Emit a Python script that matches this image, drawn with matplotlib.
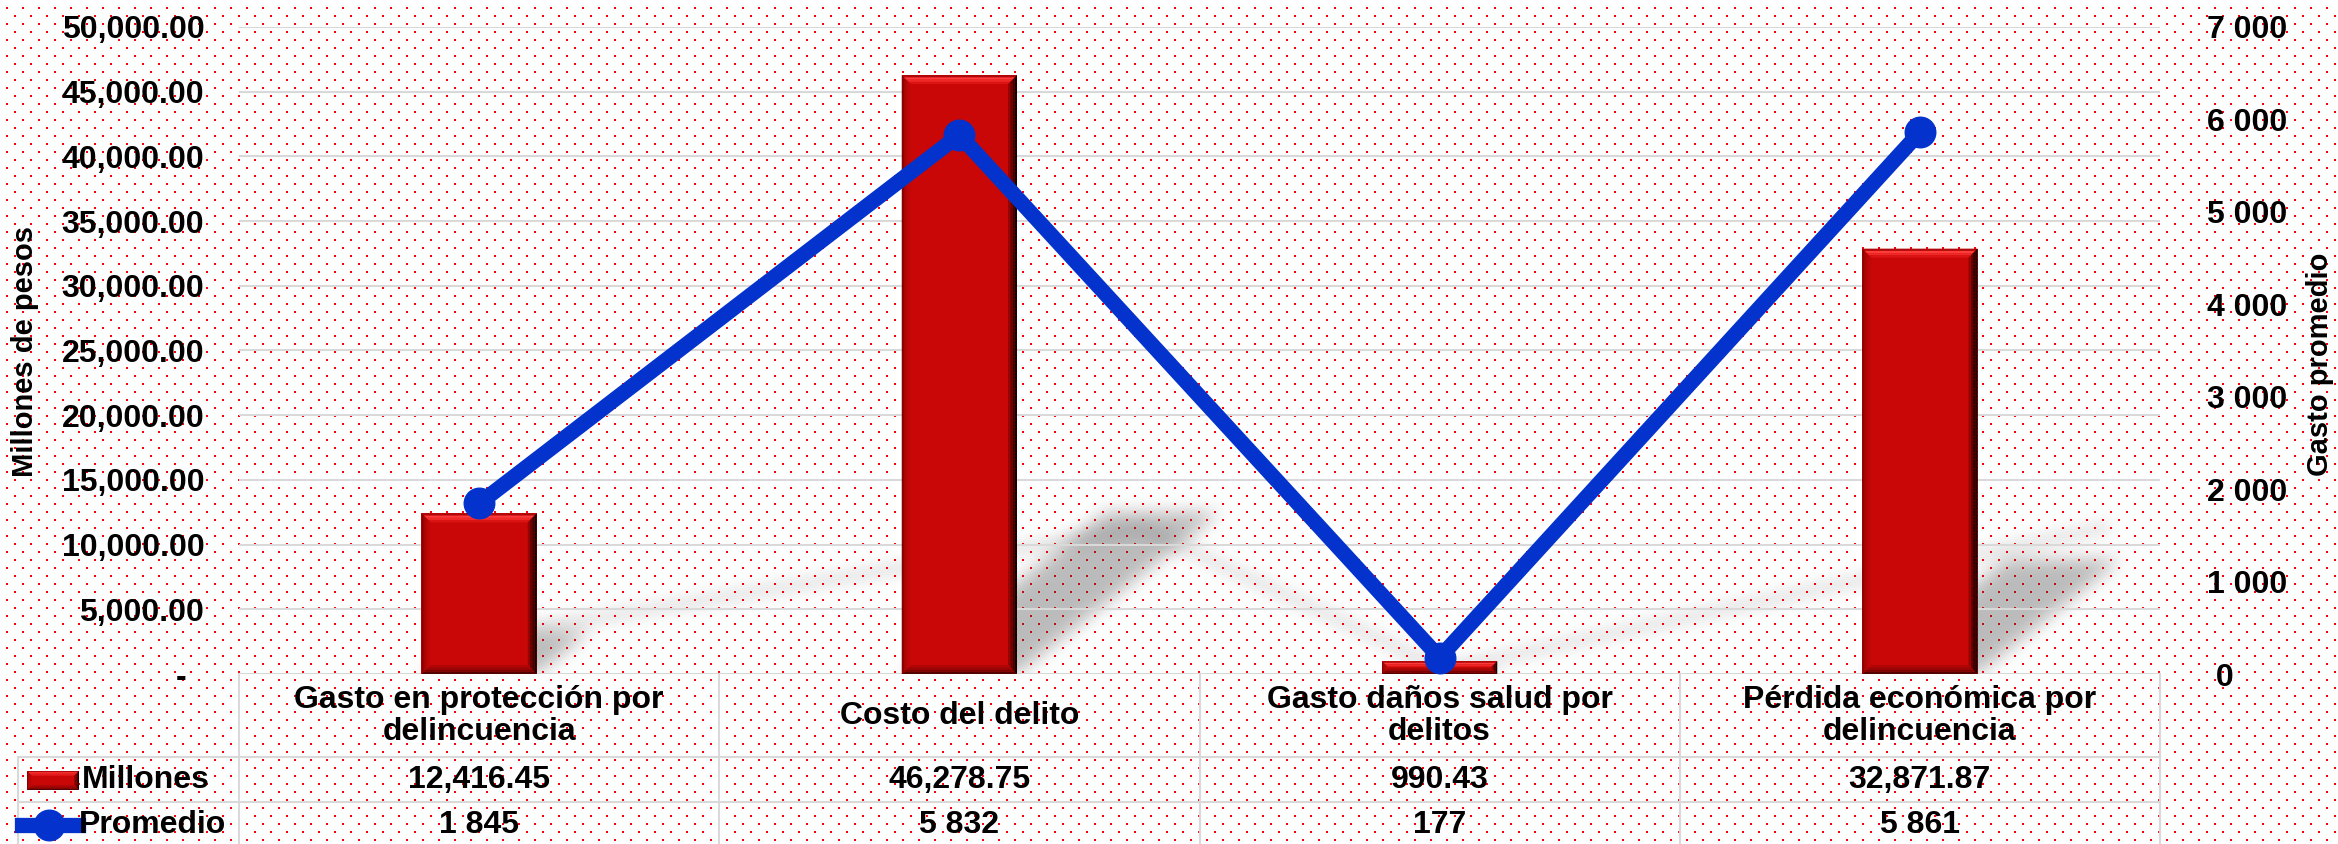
import numpy as np
import matplotlib

matplotlib.use("Agg")
import matplotlib.pyplot as plt
from matplotlib.path import Path
from matplotlib.patches import Polygon
from matplotlib.lines import Line2D
from matplotlib.transforms import IdentityTransform

# data
categories = [
    "Gasto en protección por\ndelincuencia",
    "Costo del delito",
    "Gasto daños salud por\ndelitos",
    "Pérdida económica por\ndelincuencia",
]
millones = [12416.45, 46278.75, 990.43, 32871.87]
promedio = [1845, 5832, 177, 5861]
left_ticks = [0, 5000, 10000, 15000, 20000, 25000, 30000, 35000, 40000, 45000, 50000]
right_ticks = [0, 1000, 2000, 3000, 4000, 5000, 6000, 7000]

W, H, DPI = 2338, 844, 100
PL, PR, PT, PB = 239, 2160, 27, 674  # plot box in px (from top)
RED = "#C90707"
BLUE = "#0333CC"
GRID = "#D9D9D9"

plt.rcParams["font.family"] = ["Liberation Sans", "DejaVu Sans"]
plt.rcParams["font.weight"] = "bold"

fig = plt.figure(figsize=(W / DPI, H / DPI), dpi=DPI)
fig.patch.set_facecolor("white")
ax = fig.add_axes([PL / W, (H - PB) / H, (PR - PL) / W, (PB - PT) / H])
ax.set_facecolor("none")
ax.set_xlim(-0.5, 3.5)
ax.set_ylim(0, 50000)
ax2 = ax.twinx()
ax2.set_ylim(0, 7000)

x = np.arange(len(categories))
bars = ax.bar(x, millones, width=0.24, color=RED, linewidth=0, zorder=2)
ax2.plot(x, promedio, color=BLUE, lw=11, marker="o", ms=22, zorder=4, solid_joinstyle="round")

# axes cosmetics
ax.set_yticks(left_ticks)
ax.set_yticklabels(["-  " if v == 0 else f"{v:,.2f}" for v in left_ticks])
ax2.set_yticks(right_ticks)
ax2.set_yticklabels([" 0" if v == 0 else f"{v:,}".replace(",", " ") for v in right_ticks])
ax.set_xticks([])
for a in (ax, ax2):
    for s in a.spines.values():
        s.set_visible(False)
ax.tick_params(axis="y", length=0, pad=25, labelsize=23)
ax2.tick_params(axis="y", length=0, pad=34, labelsize=23)
for lab in ax2.get_yticklabels():
    lab.set_horizontalalignment("left")
ax.yaxis.grid(True, color=GRID, lw=1.5)
ax.set_axisbelow(True)

fig.text(25 / W, 1 - 351 / H, "Millones de pesos", rotation=90, ha="center", va="center", fontsize=21)
fig.text(2320 / W, 1 - 364 / H, "Gasto promedio", rotation=90, ha="center", va="center", fontsize=21)


# bevelled bars
def strips(add, outer, inner, colors):
    outer = np.asarray(outer, float)
    inner = np.asarray(inner, float)
    n = len(colors)
    for i, c in enumerate(colors):
        p = outer + (inner - outer) * i / n
        q = outer + (inner - outer) * (i + 1) / n
        add(Polygon(np.vstack([p, q[::-1]]), closed=True, facecolor=c, edgecolor="none",
                    transform=IdentityTransform(), zorder=3))


def bevel(add, x0, y0, x1, y1, w):
    strips(add, [(x0, y1), (x1, y1)], [(x0 + w, y1 - w), (x1 - w, y1 - w)],
           ["#B00808", "#FF3C3C", "#F02828", "#DC1414"])
    strips(add, [(x1, y1), (x1, y0)], [(x1 - w, y1 - w), (x1 - w, y0 + w)],
           ["#140000", "#3C0000", "#680000", "#960303"])
    strips(add, [(x0, y0), (x1, y0)], [(x0 + w, y0 + w), (x1 - w, y0 + w)],
           ["#550000", "#780303", "#980505", "#B20606"])
    strips(add, [(x0, y1), (x0, y0)], [(x0 + w, y1 - w), (x0 + w, y0 + w)],
           ["#8A0000", "#A80404", "#B80606", "#C20606"])


bar_boxes = []
for b in bars:
    (x0, y0), (x1, y1) = ax.transData.transform([(b.get_x(), 0), (b.get_x() + b.get_width(), b.get_height())])
    bar_boxes.append((x0, y0, x1, y1))
    bevel(ax.add_patch, x0, y0, x1, y1, min(9, (y1 - y0) / 2))

# background: red dot pattern + perspective shadows
bg = np.ones((H, W, 3))
for k, r in enumerate(range(7, H, 8)):
    off = 8 if k % 2 else 0
    for c in range(6 + off, W, 16):
        bg[r:r + 2, c:c + 2] = (1.0, 0.0, 0.0)

cols = np.arange(W) + 0.5
rows = H - (np.arange(H) + 0.5)
GX, GY = np.meshgrid(cols, rows)
pts = np.column_stack([GX.ravel(), GY.ravel()])
A_S, B_S = 0.34, 0.27

bar_mask = np.zeros(H * W)
for x0, y0, x1, y1 in bar_boxes:
    h = y1 - y0
    poly = Path([(x0, y0), (x1, y0), (x1 + A_S * h, y0 + B_S * h), (x0 + A_S * h, y0 + B_S * h), (x0, y0)])
    bar_mask = np.maximum(bar_mask, poly.contains_points(pts).astype(float))
bar_mask = bar_mask.reshape(H, W)

base = bar_boxes[0][1]
lp = ax2.transData.transform(np.column_stack([x, promedio]))
sh = np.column_stack([lp[:, 0] + A_S * (lp[:, 1] - base), base + B_S * (lp[:, 1] - base)])
line_mask = np.zeros((H, W))
for p, q in zip(sh[:-1], sh[1:]):
    d = q - p
    t = np.clip(((GX - p[0]) * d[0] + (GY - p[1]) * d[1]) / (d @ d), 0, 1)
    dist = np.hypot(GX - p[0] - t * d[0], GY - p[1] - t * d[1])
    line_mask = np.maximum(line_mask, (dist < 8).astype(float))


def box_blur(a, r, times=3):
    for _ in range(times):
        for axis in (0, 1):
            pad = [(r + 1, r) if i == axis else (0, 0) for i in range(2)]
            c = np.cumsum(np.pad(a, pad, mode="edge"), axis=axis)
            if axis == 0:
                a = (c[2 * r + 1:] - c[:-2 * r - 1]) / (2 * r + 1)
            else:
                a = (c[:, 2 * r + 1:] - c[:, :-2 * r - 1]) / (2 * r + 1)
    return a


alpha = 1 - (1 - 0.33 * box_blur(bar_mask, 8)) * (1 - 0.11 * box_blur(line_mask, 6))
inside = np.zeros((H, W))
inside[PT:PB, PL:PR] = 1
alpha *= inside
bg = bg * (1 - alpha[..., None]) + 0.2 * alpha[..., None]
fig.figimage(bg, xo=0, yo=0, zorder=-10)

# data table
def fx(px):
    return px / W


def fy(py):
    return 1 - py / H


col_edges = [PL + (PR - PL) * i / len(categories) for i in range(len(categories) + 1)]
for xe in col_edges:
    fig.add_artist(Line2D([fx(xe)] * 2, [fy(PB), fy(H)], color=GRID, lw=1.5))
fig.add_artist(Line2D([fx(18)] * 2, [fy(757), fy(H)], color=GRID, lw=1.5))
for ye in (757, 802):
    fig.add_artist(Line2D([fx(18), fx(PR)], [fy(ye)] * 2, color=GRID, lw=1.5))

for i, cat in enumerate(categories):
    cx = (col_edges[i] + col_edges[i + 1]) / 2
    fig.text(fx(cx), fy(716), cat, ha="center", va="center", fontsize=23, linespacing=1.1)
    fig.text(fx(cx), fy(780), f"{millones[i]:,.2f}", ha="center", va="center", fontsize=23)
    fig.text(fx(cx), fy(825), f"{promedio[i]:,}".replace(",", " "), ha="center", va="center", fontsize=23)

# legend keys
fig.add_artist(Polygon([(27, H - 790), (79, H - 790), (79, H - 771), (27, H - 771)], closed=True,
                       facecolor=RED, edgecolor="none", transform=IdentityTransform()))
bevel(fig.add_artist, 27, H - 790, 79, H - 771, 5)
fig.add_artist(Line2D([22, 78], [H - 825, H - 825], color=BLUE, lw=11, transform=IdentityTransform()))
fig.add_artist(Line2D([49], [H - 825], color=BLUE, marker="o", ms=22, lw=0, transform=IdentityTransform()))
fig.text(fx(82), fy(780), "Millones", ha="left", va="center", fontsize=23)
fig.text(fx(79), fy(825), "Promedio", ha="left", va="center", fontsize=23)

fig.savefig("out.png", dpi=DPI)
